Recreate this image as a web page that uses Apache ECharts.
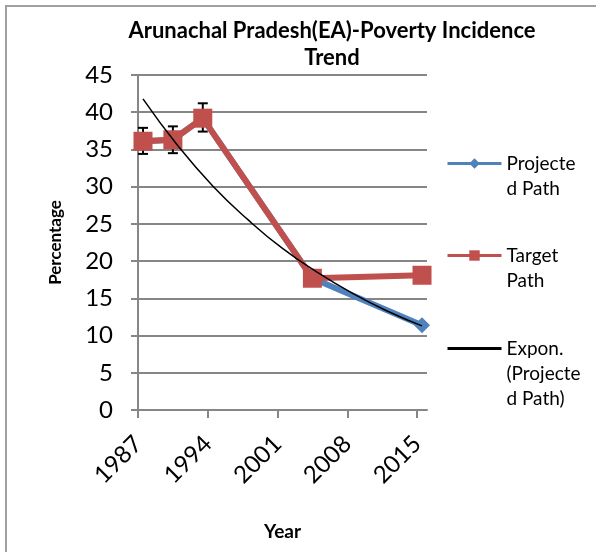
<!DOCTYPE html>
<html>
<head>
<meta charset="utf-8">
<script src="https://cdn.jsdelivr.net/npm/echarts@6/dist/echarts.min.js"></script>
<style>
  html, body { margin: 0; padding: 0; background: #fff; }
  #chart { width: 596px; height: 552px; }
</style>
</head>
<body>
<div id="chart"></div>
<script>
// values
const years = [1987.5, 1990.5, 1993.5, 2004.5, 2015.5];
const projected = [36.1, 36.3, 39.2, 17.7, 11.4];
const target = [36.1, 36.3, 39.2, 17.7, 18.1];
// error bars on the first three points (low, high)
const errLow = [34.4, 34.5, 37.4];
const errHigh = [37.9, 38.1, 41.2];
// exponential trend line
const trendYears = [1987.5, 1991, 1994.5, 1998, 2001.5, 2005, 2008.5, 2012, 2015.5];
const trendVals = [41.8, 35.5, 30.1, 25.6, 21.7, 18.5, 15.7, 13.3, 11.3];
const yearTicks = [1987, 1994, 2001, 2008, 2015];

const FONT = 'Lato';
const GRAY = '#868686';

const pairs = (xs, ys) => xs.map((x, i) => [x, ys[i]]);

const chart = echarts.init(document.getElementById('chart'));

// legend blocks: leading blank lines put the icon level with the first text line
const legendItem = (name, lines, top, extra) => Object.assign({
  data: [name],
  left: 446,
  top: top,
  padding: 0,
  itemWidth: 54,
  itemHeight: 13,
  formatter: () => '\n'.repeat(lines.length - 1) + lines.join('\n'),
  lineStyle: { width: 3 },
  textStyle: { fontFamily: FONT, fontSize: 19, color: '#000', lineHeight: 25 }
}, extra || {});

chart.setOption({
  animation: false,
  textStyle: { fontFamily: FONT },
  graphic: [{
    type: 'rect',
    shape: { x: 6, y: 6, width: 700, height: 700 },
    style: { fill: 'none', stroke: '#a0a0a0', lineWidth: 2 },
    silent: true
  }],
  title: {
    text: 'Arunachal Pradesh(EA)-Poverty Incidence\nTrend',
    left: 327,
    top: 13,
    textAlign: 'center',
    textStyle: { fontFamily: FONT, fontWeight: 'bold', fontSize: 22, lineHeight: 26.5, color: '#000' }
  },
  legend: [
    legendItem('Projected Path', ['Projecte', 'd Path'], 126),
    legendItem('Target Path', ['Target', 'Path'], 218),
    legendItem('Expon. (Projected Path)', ['Expon.', '(Projecte', 'd Path)'], 286, { itemStyle: { opacity: 0 } })
  ],
  grid: { left: 138, right: 169, top: 75, bottom: 142 },
  xAxis: {
    type: 'value',
    min: 1987,
    max: 2016,
    interval: 7,
    name: 'Year',
    nameLocation: 'middle',
    nameGap: 112,
    nameTextStyle: { fontFamily: FONT, fontWeight: 'bold', fontSize: 19, color: '#000' },
    axisLine: { onZero: false, lineStyle: { color: GRAY, width: 2 } },
    axisTick: { show: true, length: 8, lineStyle: { color: GRAY, width: 2 }, customValues: yearTicks },
    axisLabel: {
      customValues: yearTicks,
      formatter: v => String(v),
      rotate: 45,
      margin: 30,
      padding: [14, 0, 0, 0],
      fontFamily: FONT, fontSize: 24, color: '#000'
    },
    splitLine: { show: false }
  },
  yAxis: {
    type: 'value',
    min: 0,
    max: 45,
    interval: 5,
    name: 'Percentage',
    nameLocation: 'middle',
    nameRotate: 90,
    nameGap: 74,
    nameTextStyle: { fontFamily: FONT, fontWeight: 'bold', fontSize: 17, color: '#000' },
    axisLine: { show: true, lineStyle: { color: GRAY, width: 2 } },
    axisTick: { show: true, length: 7, lineStyle: { color: GRAY, width: 2 } },
    axisLabel: { margin: 25, fontFamily: FONT, fontSize: 24, color: '#000' },
    splitLine: { lineStyle: { color: GRAY, width: 2 } }
  },
  series: [
    {
      name: 'Projected Path',
      type: 'line',
      data: pairs(years, projected),
      symbol: 'diamond',
      symbolSize: 16,
      color: '#4F81BD',
      lineStyle: { width: 6, color: '#4F81BD' },
      itemStyle: { color: '#4F81BD' },
      z: 2
    },
    {
      name: 'error',
      type: 'custom',
      data: errLow.map((lo, i) => [years[i], lo, errHigh[i]]),
      renderItem: (params, api) => {
        const top = api.coord([api.value(0), api.value(2)]);
        const bot = api.coord([api.value(0), api.value(1)]);
        const w = 5;
        const st = { stroke: '#000', lineWidth: 2 };
        return {
          type: 'group',
          children: [
            { type: 'line', shape: { x1: top[0], y1: top[1], x2: bot[0], y2: bot[1] }, style: st },
            { type: 'line', shape: { x1: top[0] - w, y1: top[1], x2: top[0] + w, y2: top[1] }, style: st },
            { type: 'line', shape: { x1: bot[0] - w, y1: bot[1], x2: bot[0] + w, y2: bot[1] }, style: st }
          ]
        };
      },
      silent: true,
      z: 2
    },
    {
      name: 'Target Path',
      type: 'line',
      data: pairs(years, target),
      symbol: 'rect',
      symbolSize: 19,
      color: '#C0504D',
      lineStyle: { width: 6, color: '#C0504D' },
      itemStyle: { color: '#C0504D' },
      z: 3
    },
    {
      name: 'Expon. (Projected Path)',
      type: 'line',
      data: pairs(trendYears, trendVals),
      smooth: true,
      showSymbol: false,
      symbol: 'none',
      color: '#000',
      lineStyle: { width: 1.5, color: '#000' },
      z: 4
    }
  ]
});
</script>
</body>
</html>
